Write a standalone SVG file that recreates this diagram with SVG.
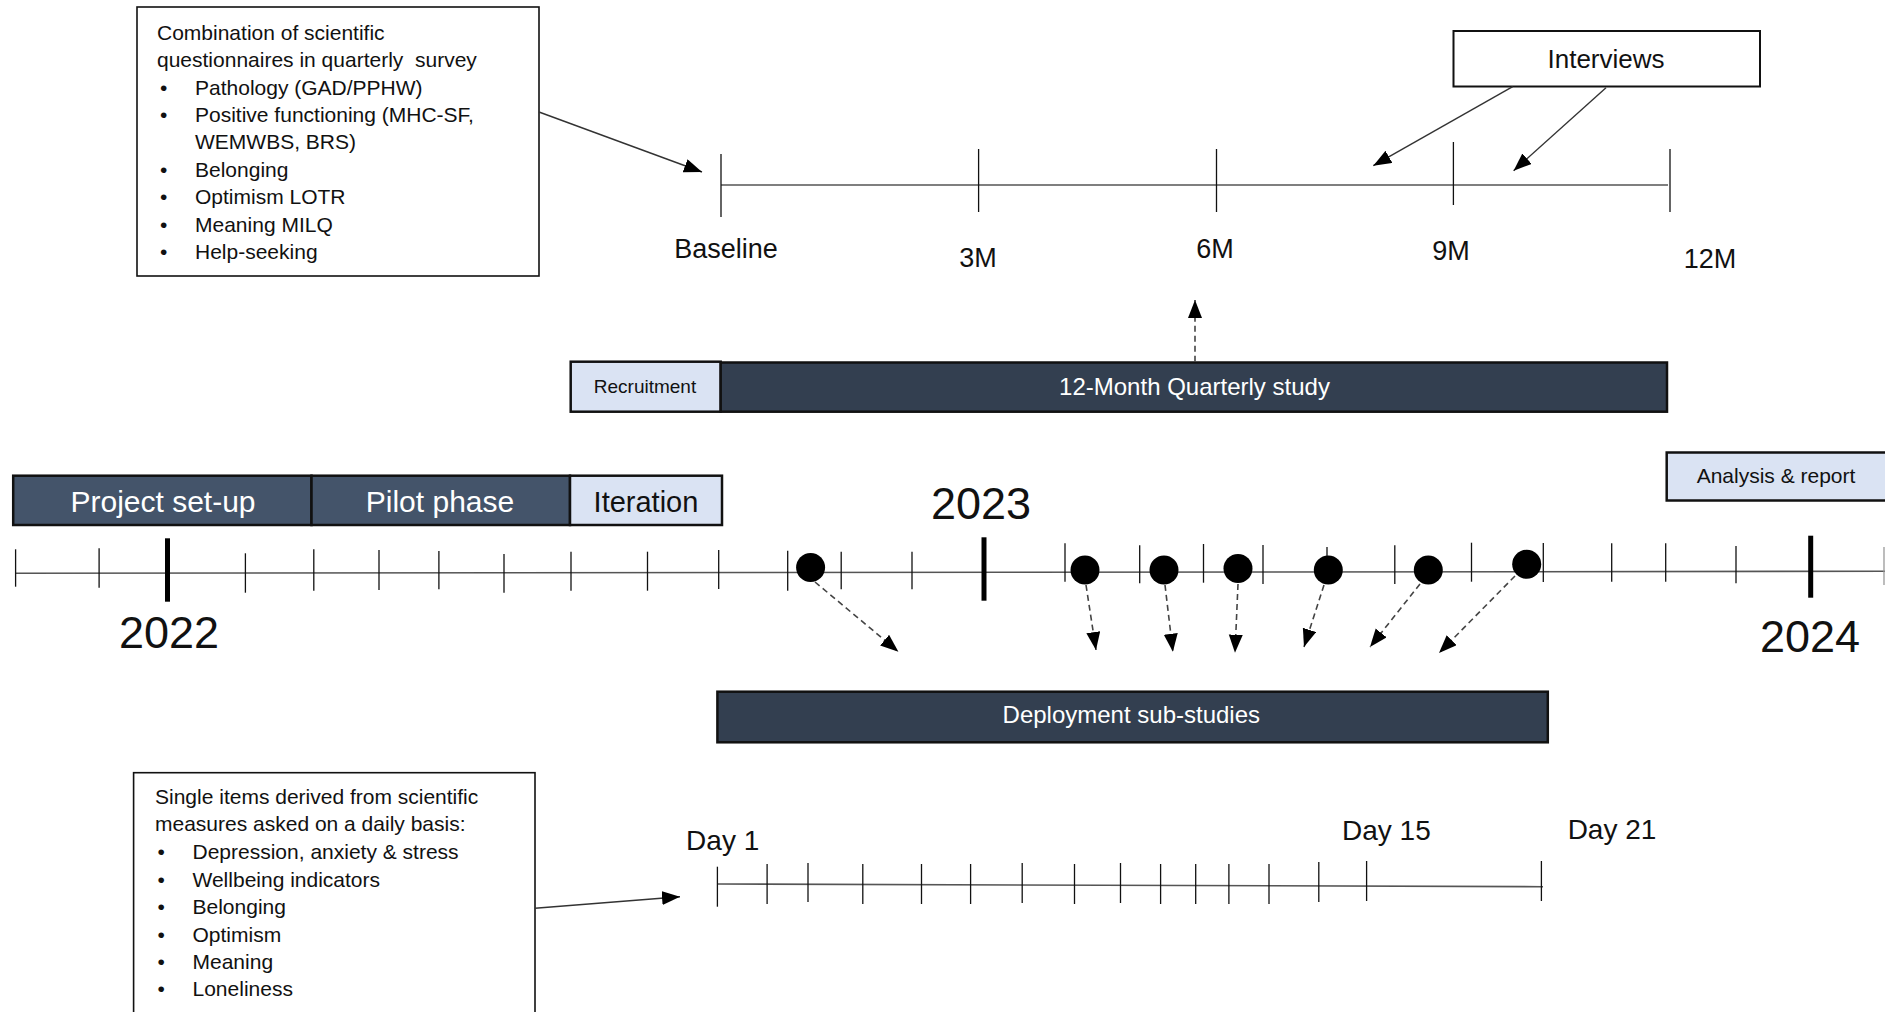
<svg xmlns="http://www.w3.org/2000/svg" width="1885" height="1012" viewBox="0 0 1885 1012">
<style>
text{font-family:"Liberation Sans",Arial,sans-serif;fill:#111}
.body{font-size:21px}
.lbl{font-size:27px;text-anchor:middle}
.year{font-size:45px;text-anchor:middle}
.box{fill:#fff;stroke:#111;stroke-width:1.6}
.dark{fill:#44546a;stroke:#111;stroke-width:2.5}
.darker{fill:#333f50;stroke:#111;stroke-width:2.5}
.light{fill:#dae3f3;stroke:#111;stroke-width:2.5}
.wt{fill:#fff;text-anchor:middle}
.bt{fill:#111;text-anchor:middle}
.axis{stroke:#555;stroke-width:1.6;fill:none}
.tick{stroke:#111;stroke-width:1.3}
.big{stroke:#000;stroke-width:5}
.solid{stroke:#333;stroke-width:1.4;fill:none}
.dash{stroke:#444;stroke-width:1.6;fill:none;stroke-dasharray:6 4}
.dot{fill:#000}
</style>
<defs>
<marker id="ah" markerUnits="userSpaceOnUse" markerWidth="20" markerHeight="16" refX="18" refY="7" orient="auto"><path d="M0,0 L18,7 L0,14 z" fill="#000"/></marker>
</defs>

<g id="quarterly-box">
<rect class="box" x="137" y="7" width="402" height="269"/>
<text class="body" x="157" y="40">Combination of scientific</text>
<text class="body" x="157" y="67" xml:space="preserve">questionnaires in quarterly  survey</text>
<text class="body" x="160" y="95">•</text><text class="body" x="195" y="95">Pathology (GAD/PPHW)</text>
<text class="body" x="160" y="122">•</text><text class="body" x="195" y="122">Positive functioning (MHC-SF,</text>
<text class="body" x="195" y="149">WEMWBS, BRS)</text>
<text class="body" x="160" y="177">•</text><text class="body" x="195" y="177">Belonging</text>
<text class="body" x="160" y="204">•</text><text class="body" x="195" y="204">Optimism LOTR</text>
<text class="body" x="160" y="232">•</text><text class="body" x="195" y="232">Meaning MILQ</text>
<text class="body" x="160" y="259">•</text><text class="body" x="195" y="259">Help-seeking</text>
</g>

<g id="interviews">
<rect class="box" x="1453.5" y="31" width="306.5" height="55.5" style="stroke-width:2"/>
<text x="1606" y="68" style="font-size:26px;text-anchor:middle">Interviews</text>
</g>

<g id="quarterly-timeline">
<line class="axis" x1="721" y1="185" x2="1668" y2="185"/>
<line class="tick" x1="721" y1="154" x2="721" y2="217"/>
<line class="tick" x1="978.6" y1="149" x2="978.6" y2="212"/>
<line class="tick" x1="1216.5" y1="149" x2="1216.5" y2="212"/>
<line class="tick" x1="1453.4" y1="142" x2="1453.4" y2="205"/>
<line class="tick" x1="1670" y1="149" x2="1670" y2="212"/>
<text class="lbl" x="726" y="258">Baseline</text>
<text class="lbl" x="978" y="267">3M</text>
<text class="lbl" x="1215" y="258">6M</text>
<text class="lbl" x="1451" y="260">9M</text>
<text class="lbl" x="1710" y="268">12M</text>
</g>

<g id="recruitment">
<rect class="light" x="570.7" y="361.7" width="150" height="50"/>
<text class="bt" x="645" y="393" style="font-size:19px">Recruitment</text>
</g>
<g id="quarterly-study">
<rect class="darker" x="720.7" y="362.5" width="946.3" height="49.2"/>
<text class="wt" x="1194.5" y="395" style="font-size:24px">12-Month Quarterly study</text>
</g>

<g id="project-setup">
<rect class="dark" x="13.2" y="475.7" width="298.3" height="49.3"/>
<text class="wt" x="163" y="512" style="font-size:30px">Project set-up</text>
</g>
<g id="pilot-phase">
<rect class="dark" x="311.5" y="475.7" width="258.5" height="49.3"/>
<text class="wt" x="440" y="512" style="font-size:30px">Pilot phase</text>
</g>
<g id="iteration">
<rect class="light" x="570" y="475.7" width="152" height="49.3"/>
<text class="bt" x="646" y="512" style="font-size:29px">Iteration</text>
</g>

<g id="analysis-report">
<rect class="light" x="1666.7" y="452.5" width="230" height="48"/>
<text class="bt" x="1776" y="483" style="font-size:21px">Analysis &amp; report</text>
</g>

<g id="main-timeline">
<line class="axis" x1="15.6" y1="573.3" x2="1885" y2="571.3"/>
<line class="tick" x1="15.6" y1="549.3" x2="15.6" y2="586.7"/>
<line class="tick" x1="99.1" y1="548.3" x2="99.1" y2="587.7"/>
<line class="tick" x1="245.4" y1="553.3" x2="245.4" y2="592.7"/>
<line class="tick" x1="313.8" y1="549.3" x2="313.8" y2="590.7"/>
<line class="tick" x1="379" y1="550" x2="379" y2="590"/>
<line class="tick" x1="438.9" y1="551" x2="438.9" y2="589.3"/>
<line class="tick" x1="504" y1="554" x2="504" y2="592.7"/>
<line class="tick" x1="571" y1="551.7" x2="571" y2="590.7"/>
<line class="tick" x1="647.5" y1="551.7" x2="647.5" y2="590.7"/>
<line class="tick" x1="718.7" y1="550" x2="718.7" y2="589"/>
<line class="tick" x1="787.7" y1="550.7" x2="787.7" y2="590.7"/>
<line class="tick" x1="841.2" y1="551.7" x2="841.2" y2="589.3"/>
<line class="tick" x1="912" y1="551.7" x2="912" y2="589.3"/>
<line class="tick" x1="1065" y1="543.3" x2="1065" y2="581.7"/>
<line class="tick" x1="1139.7" y1="545.3" x2="1139.7" y2="583.3"/>
<line class="tick" x1="1203.5" y1="544" x2="1203.5" y2="582.7"/>
<line class="tick" x1="1263" y1="545" x2="1263" y2="584"/>
<line class="tick" x1="1327" y1="547" x2="1327" y2="565"/>
<line class="tick" x1="1394.8" y1="545.3" x2="1394.8" y2="584"/>
<line class="tick" x1="1471.5" y1="542.7" x2="1471.5" y2="581.7"/>
<line class="tick" x1="1543.3" y1="543" x2="1543.3" y2="582"/>
<line class="tick" x1="1611.7" y1="543.3" x2="1611.7" y2="581.7"/>
<line class="tick" x1="1665.7" y1="543.3" x2="1665.7" y2="581.7"/>
<line class="tick" x1="1736" y1="546" x2="1736" y2="583.3"/>
<line class="tick" x1="1884" y1="547" x2="1884" y2="585" style="stroke:#999"/>
<line class="big" x1="167.5" y1="538.3" x2="167.5" y2="601.7"/>
<line class="big" x1="984" y1="537.3" x2="984" y2="600.7"/>
<line class="big" x1="1810.7" y1="535.7" x2="1810.7" y2="597.7"/>
<text class="year" x="169" y="648">2022</text>
<text class="year" x="981" y="519">2023</text>
<text class="year" x="1810" y="652">2024</text>
</g>

<g id="sub-study-points">
<circle class="dot" cx="810.6" cy="567.5" r="14.5"/>
<circle class="dot" cx="1085" cy="570" r="14.5"/>
<circle class="dot" cx="1164" cy="570" r="14.5"/>
<circle class="dot" cx="1238" cy="568.5" r="14.5"/>
<circle class="dot" cx="1328.3" cy="570" r="14.5"/>
<circle class="dot" cx="1428.3" cy="570" r="14.5"/>
<circle class="dot" cx="1526.7" cy="564.3" r="14.5"/>
</g>

<g id="deployment">
<rect class="darker" x="717.4" y="691.7" width="830.4" height="50.6"/>
<text class="wt" x="1131.3" y="723" style="font-size:24px">Deployment sub-studies</text>
</g>

<g id="daily-box">
<rect class="box" x="133.6" y="772.7" width="401.4" height="260"/>
<text class="body" x="155" y="804">Single items derived from scientific</text>
<text class="body" x="155" y="831">measures asked on a daily basis:</text>
<text class="body" x="157.5" y="859">•</text><text class="body" x="192.5" y="859">Depression, anxiety &amp; stress</text>
<text class="body" x="157.5" y="886.5">•</text><text class="body" x="192.5" y="886.5">Wellbeing indicators</text>
<text class="body" x="157.5" y="914">•</text><text class="body" x="192.5" y="914">Belonging</text>
<text class="body" x="157.5" y="941.5">•</text><text class="body" x="192.5" y="941.5">Optimism</text>
<text class="body" x="157.5" y="969">•</text><text class="body" x="192.5" y="969">Meaning</text>
<text class="body" x="157.5" y="996">•</text><text class="body" x="192.5" y="996">Loneliness</text>
</g>

<g id="daily-timeline">
<line class="axis" x1="717.4" y1="884" x2="1543" y2="886.7"/>
<line class="tick" x1="717.4" y1="866.7" x2="717.4" y2="906.7"/>
<line class="tick" x1="767.1" y1="864" x2="767.1" y2="904"/>
<line class="tick" x1="808" y1="863" x2="808" y2="902"/>
<line class="tick" x1="862.8" y1="864" x2="862.8" y2="904"/>
<line class="tick" x1="921.5" y1="864" x2="921.5" y2="904"/>
<line class="tick" x1="970.6" y1="864" x2="970.6" y2="904"/>
<line class="tick" x1="1022.2" y1="863" x2="1022.2" y2="903"/>
<line class="tick" x1="1074.5" y1="864" x2="1074.5" y2="904"/>
<line class="tick" x1="1120.5" y1="863" x2="1120.5" y2="903"/>
<line class="tick" x1="1160.6" y1="864" x2="1160.6" y2="904"/>
<line class="tick" x1="1195.7" y1="864" x2="1195.7" y2="904"/>
<line class="tick" x1="1228.9" y1="864" x2="1228.9" y2="904"/>
<line class="tick" x1="1269" y1="864" x2="1269" y2="904"/>
<line class="tick" x1="1318.8" y1="862" x2="1318.8" y2="902"/>
<line class="tick" x1="1366.6" y1="861" x2="1366.6" y2="901"/>
<line class="tick" x1="1541.4" y1="861" x2="1541.4" y2="901"/>
<text class="lbl" x="722.7" y="850" style="font-size:28px">Day 1</text>
<text class="lbl" x="1386.4" y="840" style="font-size:28px">Day 15</text>
<text class="lbl" x="1612" y="839" style="font-size:28px">Day 21</text>
</g>

<g id="connectors">
<line class="solid" x1="539" y1="112" x2="702" y2="172" marker-end="url(#ah)"/>
<line class="solid" x1="1512.7" y1="86.7" x2="1373.3" y2="165.7" marker-end="url(#ah)"/>
<line class="solid" x1="1606" y1="87.7" x2="1513.6" y2="170.7" marker-end="url(#ah)"/>
<line class="solid" x1="535" y1="908.3" x2="680" y2="896.7" marker-end="url(#ah)"/>
<line class="dash" x1="1195" y1="361.7" x2="1195" y2="300" marker-end="url(#ah)"/>
<line class="dash" x1="815" y1="582" x2="898.4" y2="651.7" marker-end="url(#ah)"/>
<line class="dash" x1="1086" y1="585" x2="1096" y2="650" marker-end="url(#ah)"/>
<line class="dash" x1="1165" y1="585" x2="1172.9" y2="651.7" marker-end="url(#ah)"/>
<line class="dash" x1="1238" y1="584" x2="1235" y2="652.7" marker-end="url(#ah)"/>
<line class="dash" x1="1324" y1="585" x2="1304" y2="647" marker-end="url(#ah)"/>
<line class="dash" x1="1420" y1="584" x2="1370" y2="647" marker-end="url(#ah)"/>
<line class="dash" x1="1515" y1="576" x2="1439" y2="653" marker-end="url(#ah)"/>
</g>
</svg>
